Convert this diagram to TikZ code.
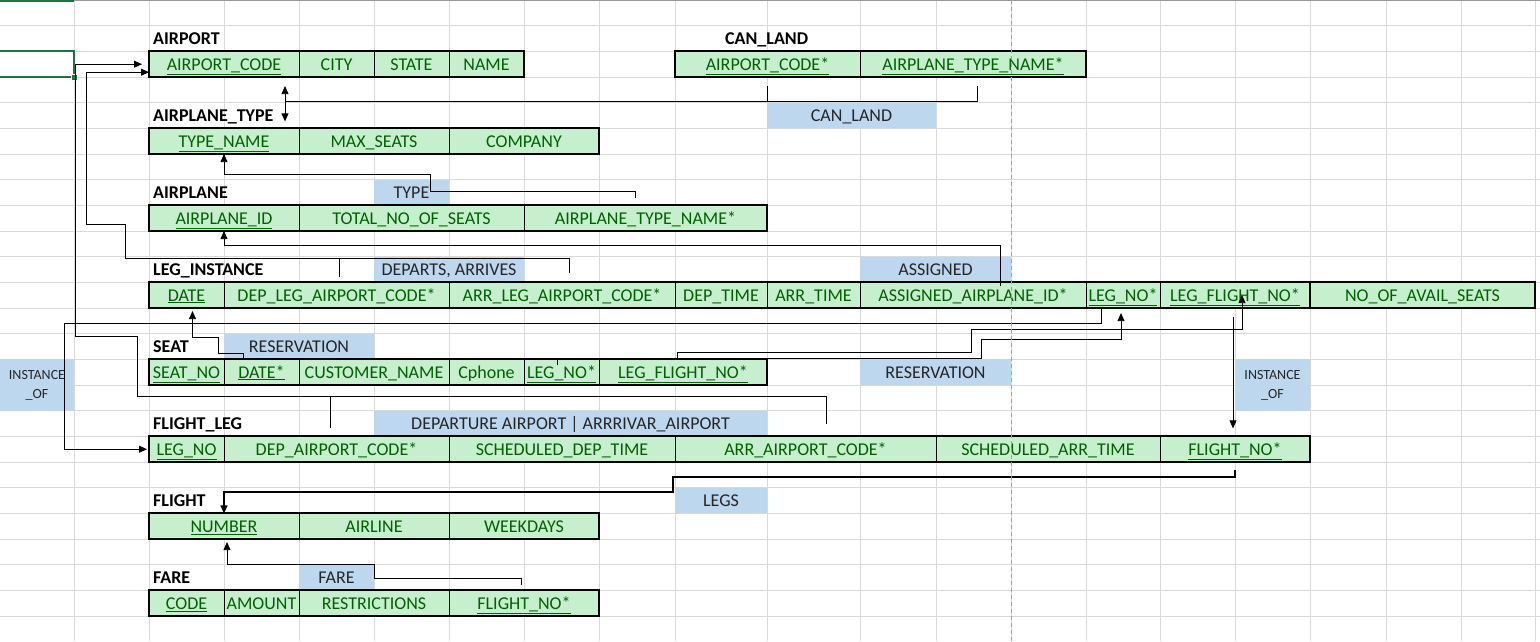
\documentclass[tikz,border=0pt]{standalone}
\usepackage{fontspec}
\setmainfont{Carlito}
\usetikzlibrary{arrows.meta}

\definecolor{cellgreen}{HTML}{C6EFCE}
\definecolor{keygreen}{HTML}{006100}
\definecolor{relblue}{HTML}{BDD7EE}
\definecolor{gridgray}{HTML}{D9D9D9}
\definecolor{selgreen}{HTML}{217346}
\definecolor{breakgray}{HTML}{A0A0A0}

\newcommand{\keyfield}[1]{\underline{#1}}

\begin{document}
\begin{tikzpicture}[x=1pt, y=-1pt,
  field/.style={draw=black, line width=0.8pt, fill=cellgreen, text=keygreen,
    minimum height=25.7pt, inner sep=0pt, outer sep=0pt, text height=16pt, text depth=4pt,
    font=\fontsize{18}{21}\selectfont},
  tblframe/.style={draw=black, line width=2.2pt},
  tbltitle/.style={anchor=west, inner sep=0pt, text height=16pt, text depth=4pt,
    font=\fontsize{18}{21}\selectfont\bfseries},
  rel/.style={fill=relblue, text=black!85, minimum height=25.7pt, inner sep=0pt,
    text height=16pt, text depth=4pt, font=\fontsize{18}{21}\selectfont},
  link/.style={draw=black, line width=0.8pt},
  arr/.style={link, -{Triangle[length=8pt, width=7pt]}},
  darr/.style={link, {Triangle[length=8pt, width=7pt]}-{Triangle[length=8pt, width=7pt]}},
]

%% sheet
\fill[white] (0,0) rectangle (1540,641);
\useasboundingbox (0,0) rectangle (1540,641);
\foreach \r in {1,...,24}
  \draw[gridgray, line width=0.8pt] (0,\r*25.67) -- (1540,\r*25.67);
\foreach \c in {74,149,224,299,374,449,524,599,675,767,860,936,1011,1086,1160,1235,1310,1386,1461,1535}
  \draw[gridgray, line width=0.8pt] (\c,0) -- (\c,641);
\draw[gridgray!70!black, line width=0.8pt] (0,0.5) -- (1540,0.5);
\draw[selgreen, line width=2pt] (0,1) -- (74,1);
\draw[selgreen, line width=2pt] (-2,51.3) rectangle (74,77);
\fill[selgreen, draw=white, line width=0.8pt] (71,74) rectangle (77,80);

%% relationship labels
\node[rel, minimum width=169pt] (lblCanLand) at (851.5,115.5) {CAN\_LAND};
\node[rel, minimum width=75pt] (lblType) at (411.5,192.5) {TYPE};
\node[rel, minimum width=150pt] (lblDeparts) at (449,269.5) {DEPARTS,\ ARRIVES};
\node[rel, minimum width=151pt] (lblAssigned) at (935.5,269.5) {ASSIGNED};
\node[rel, minimum width=150pt] (lblResL) at (299,346.5) {RESERVATION};
\node[rel, minimum width=151pt] (lblResR) at (935.5,372.2) {RESERVATION};
\node[rel, minimum width=74pt, minimum height=51.3pt, align=center, text height=,
  text depth=, font=\fontsize{14}{19}\selectfont] (lblInstL) at (37,385) {INSTANCE\\\_OF};
\node[rel, minimum width=75pt, minimum height=51.3pt, align=center, text height=,
  text depth=, font=\fontsize{14}{19}\selectfont] (lblInstR) at (1272.5,385) {INSTANCE\\\_OF};
\node[rel, minimum width=393pt] (lblDepArr) at (570.5,423.5) {DEPARTURE AIRPORT | ARRRIVAR\_AIRPORT};
\node[rel, minimum width=92pt] (lblLegs) at (721,500.5) {LEGS};
\node[rel, minimum width=75pt] (lblFare) at (336.5,577.5) {FARE};

%% AIRPORT
\node[tbltitle] (tAirport) at (153,38.5) {AIRPORT};
\node[field, minimum width=150pt] (apAC) at (224,64.2) {\keyfield{AIRPORT\_CODE}};
\node[field, minimum width=75pt] (apCity) at (336.5,64.2) {CITY};
\node[field, minimum width=75pt] (apState) at (411.5,64.2) {STATE};
\node[field, minimum width=75pt] (apName) at (486.5,64.2) {NAME};
\draw[tblframe] (apAC.north west) rectangle (apName.south east);

%% CAN_LAND
\node[tbltitle] (tCanLand) at (725,38.5) {CAN\_LAND};
\node[field, minimum width=185pt] (clAC) at (767.5,64.2) {\keyfield{AIRPORT\_CODE*}};
\node[field, minimum width=226pt] (clTN) at (973,64.2) {\keyfield{AIRPLANE\_TYPE\_NAME*}};
\draw[tblframe] (clAC.north west) rectangle (clTN.south east);

%% AIRPLANE_TYPE
\node[tbltitle] (tAirplaneType) at (153,115.5) {AIRPLANE\_TYPE};
\node[field, minimum width=150pt] (atTN) at (224,141.2) {\keyfield{TYPE\_NAME}};
\node[field, minimum width=150pt] (atMS) at (374,141.2) {MAX\_SEATS};
\node[field, minimum width=150pt] (atCo) at (524,141.2) {COMPANY};
\draw[tblframe] (atTN.north west) rectangle (atCo.south east);

%% AIRPLANE
\node[tbltitle] (tAirplane) at (153,192.5) {AIRPLANE};
\node[field, minimum width=150pt] (aID) at (224,218.2) {\keyfield{AIRPLANE\_ID}};
\node[field, minimum width=225pt] (aTot) at (411.5,218.2) {TOTAL\_NO\_OF\_SEATS};
\node[field, minimum width=243pt] (aTN) at (645.5,218.2) {AIRPLANE\_TYPE\_NAME*};
\draw[tblframe] (aID.north west) rectangle (aTN.south east);

%% LEG_INSTANCE
\node[tbltitle] (tLegInst) at (153,269.5) {LEG\_INSTANCE};
\node[field, minimum width=75pt] (liDate) at (186.5,295.2) {\keyfield{DATE}};
\node[field, minimum width=225pt] (liDep) at (336.5,295.2) {DEP\_LEG\_AIRPORT\_CODE*};
\node[field, minimum width=226pt] (liArr) at (562,295.2) {ARR\_LEG\_AIRPORT\_CODE*};
\node[field, minimum width=92pt] (liDT) at (721,295.2) {DEP\_TIME};
\node[field, minimum width=93pt] (liAT) at (813.5,295.2) {ARR\_TIME};
\node[field, minimum width=226pt] (liAsg) at (973,295.2) {ASSIGNED\_AIRPLANE\_ID*};
\node[field, minimum width=74pt] (liLeg) at (1123,295.2) {\keyfield{LEG\_NO*}};
\node[field, minimum width=150pt] (liFl) at (1235,295.2) {\keyfield{LEG\_FLIGHT\_NO*}};
\node[field, minimum width=225pt] (liAv) at (1422.5,295.2) {NO\_OF\_AVAIL\_SEATS};
\draw[tblframe] (liDate.north west) rectangle (liFl.south east);
\draw[tblframe] (liAv.north west) rectangle (liAv.south east);

%% SEAT
\node[tbltitle] (tSeat) at (153,346.5) {SEAT};
\node[field, minimum width=75pt] (sNo) at (186.5,372.2) {\keyfield{SEAT\_NO}};
\node[field, minimum width=75pt] (sDate) at (261.5,372.2) {\keyfield{DATE*}};
\node[field, minimum width=150pt] (sCust) at (374,372.2) {CUSTOMER\_NAME};
\node[field, minimum width=75pt] (sPh) at (486.5,372.2) {Cphone};
\node[field, minimum width=75pt] (sLeg) at (561.5,372.2) {\keyfield{LEG\_NO*}};
\node[field, minimum width=168pt] (sFl) at (683,372.2) {\keyfield{LEG\_FLIGHT\_NO*}};
\draw[tblframe] (sNo.north west) rectangle (sFl.south east);

%% FLIGHT_LEG
\node[tbltitle] (tFlightLeg) at (153,423.5) {FLIGHT\_LEG};
\node[field, minimum width=75pt] (flNo) at (186.5,449.2) {\keyfield{LEG\_NO}};
\node[field, minimum width=225pt] (flDep) at (336.5,449.2) {DEP\_AIRPORT\_CODE*};
\node[field, minimum width=226pt] (flSD) at (562,449.2) {SCHEDULED\_DEP\_TIME};
\node[field, minimum width=261pt] (flArr) at (805.5,449.2) {ARR\_AIRPORT\_CODE*};
\node[field, minimum width=224pt] (flSA) at (1048,449.2) {SCHEDULED\_ARR\_TIME};
\node[field, minimum width=150pt] (flFl) at (1235,449.2) {\keyfield{FLIGHT\_NO*}};
\draw[tblframe] (flNo.north west) rectangle (flFl.south east);

%% FLIGHT
\node[tbltitle] (tFlight) at (153,500.5) {FLIGHT};
\node[field, minimum width=150pt] (fNum) at (224,526.2) {\keyfield{NUMBER}};
\node[field, minimum width=150pt] (fAir) at (374,526.2) {AIRLINE};
\node[field, minimum width=150pt] (fWk) at (524,526.2) {WEEKDAYS};
\draw[tblframe] (fNum.north west) rectangle (fWk.south east);

%% FARE
\node[tbltitle] (tFare) at (153,577.5) {FARE};
\node[field, minimum width=75pt] (faCode) at (186.5,603.2) {\keyfield{CODE}};
\node[field, minimum width=75pt] (faAmt) at (261.5,603.2) {AMOUNT};
\node[field, minimum width=150pt] (faRes) at (374,603.2) {RESTRICTIONS};
\node[field, minimum width=150pt] (faFl) at (524,603.2) {\keyfield{FLIGHT\_NO*}};
\draw[tblframe] (faCode.north west) rectangle (faFl.south east);

%% links
\draw[link] ([yshift=-9pt]clAC.south) -- ++(0,15);                          %% can_land airport
\draw[link] ([xshift=4.5pt,yshift=-9pt]clTN.south) -- ++(0,15) -- ++(-692.5,0); %% can_land type
\draw[darr] ([xshift=61pt,yshift=-9pt]apAC.south) -- ([xshift=61pt,yshift=7pt]atTN.north);
\draw[arr] ([xshift=-10pt,yshift=7pt]aTN.north) -- ++(0,-7) -- ++(-205,0)
  -- ++(0,-17) -| (atTN.south);                                              %% type
\draw[arr] ([xshift=27pt,yshift=-4pt]liAsg.north) -- ++(0,-41) -| (aID.south); %% assigned
\draw[link] ([xshift=2.5pt,yshift=5pt]liDep.north) -- ++(0,-19);            %% departs
\draw[arr] ([xshift=7pt,yshift=9pt]liArr.north) -- ++(0,-15) -- ++(-444,0)
  -- ++(0,-34) -- ++(-39,0) |- ([yshift=-8pt]apAC.west);                    %% arrives
\draw[link] ([xshift=-6.5pt,yshift=8pt]flDep.north) -- ++(0,-32);           %% departure airport
\draw[arr] ([xshift=20.5pt,yshift=12pt]flArr.north) -- ++(0,-28) -- ++(-689,0)
  -- ++(0,-60) -- ++(-62,0) |- ([xshift=-7pt]apAC.west);                    %% arrival airport
\draw[arr] ([xshift=-18.5pt]sDate.north) -- ++(0,-6) -- ++(-25,0)
  -- ++(0,-16) -| ([xshift=6pt,yshift=-3pt]liDate.south);                   %% reservation date
\draw[arr] ([xshift=-22pt]liLeg.south) -- ++(0,15) -- ++(-1037,0)
  |- ([xshift=-2pt]flNo.west);                                              %% instance_of leg
\draw[arr] ([xshift=-6pt]sFl.north) -- ++(0,-7) -- ++(294,0)
  -- ++(0,-23) -| ([xshift=7pt,yshift=13pt]liFl.south);                     %% reservation flight
\draw[arr] ([xshift=-4.5pt,yshift=-6pt]sLeg.north) -- ++(0,-7) -- ++(424,0)
  -- ++(0,-18.5) -| ([xshift=-2pt,yshift=-5pt]liLeg.south);                 %% reservation leg
\draw[arr] ([xshift=-2pt,yshift=-9pt]liFl.south) -- ([xshift=-2pt,yshift=8pt]flFl.north); %% instance_of flight
\draw[arr, line width=1.6pt] ([yshift=-8pt]flFl.south) -- ++(0,7) -- ++(-562,0)
  -- ++(0,15) -| (fNum.north);                                              %% legs
\draw[arr] ([xshift=-3pt,yshift=5pt]faFl.north) -- ++(0,-7) -- ++(-147,0)
  -- ++(0,-14) -| ([xshift=3pt,yshift=-3pt]fNum.south);                     %% fare

%% page break
\draw[breakgray, line width=0.8pt, dash pattern=on 4pt off 3pt] (1011,0) -- (1011,641);
\end{tikzpicture}
\end{document}
